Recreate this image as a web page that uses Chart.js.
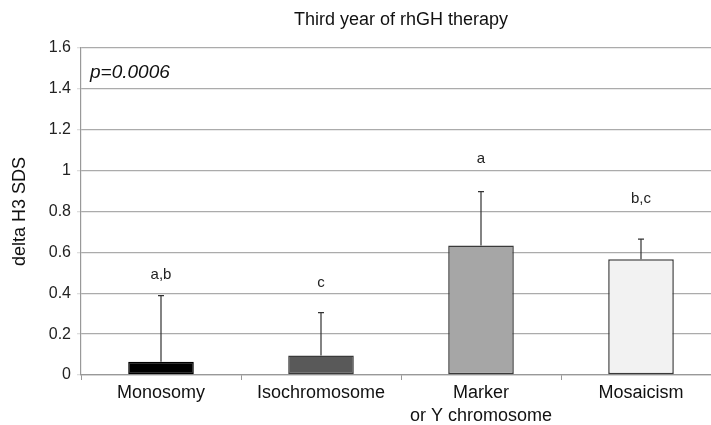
<!DOCTYPE html>
<html lang="en">
<head>
  <meta charset="UTF-8">
  <title>Third year of rhGH therapy</title>
  <script src="https://cdn.jsdelivr.net/npm/chart.js"></script>
  <style>
    html, body { margin: 0; padding: 0; background: #fff; overflow: hidden; }
    #wrap { width: 711px; height: 425px; overflow: hidden; }
  </style>
</head>
<body>
  <div id="wrap">
    <canvas id="chart" width="730" height="425"></canvas>
  </div>

  <script>
    // data
    const groups = ['Monosomy', 'Isochromosome', ['Marker', 'or Y chromosome'], 'Mosaicism'];
    const meanDelta = [0.065, 0.096, 0.634, 0.566];
    const errTop = [0.388, 0.305, 0.897, 0.665];
    const letters = ['a,b', 'c', 'a', 'b,c'];
    const letterAt = [0.49, 0.45, 1.06, 0.86];
    const barColors = ['#000000', '#595959', '#a6a6a6', '#f2f2f2'];
    const pText = 'p=0.0006';
    const titleText = 'Third year of rhGH therapy';

    const FONT = '"Liberation Sans", Arial, sans-serif';

    // error bars, letters, title and p value
    const extras = {
      id: 'extras',
      afterDatasetsDraw(chart) {
        const ctx = chart.ctx;
        const y = chart.scales.y;
        const area = chart.chartArea;
        const bars = chart.getDatasetMeta(0).data;
        ctx.save();
        ctx.strokeStyle = '#333';
        ctx.lineWidth = 1.2;
        bars.forEach((bar, i) => {
          const yTop = y.getPixelForValue(errTop[i]);
          ctx.beginPath();
          ctx.moveTo(bar.x, bar.y);
          ctx.lineTo(bar.x, yTop);
          ctx.moveTo(bar.x - 3, yTop);
          ctx.lineTo(bar.x + 3, yTop);
          ctx.stroke();

          ctx.fillStyle = '#222';
          ctx.font = '15px ' + FONT;
          ctx.textAlign = 'center';
          ctx.textBaseline = 'middle';
          ctx.fillText(letters[i], bar.x, y.getPixelForValue(letterAt[i]));
        });

        ctx.fillStyle = '#111';
        ctx.font = 'italic 19px ' + FONT;
        ctx.textAlign = 'left';
        ctx.textBaseline = 'middle';
        ctx.fillText(pText, area.left + 9, 73);

        ctx.font = '18px ' + FONT;
        ctx.textAlign = 'center';
        ctx.fillText(titleText, (area.left + area.right) / 2, 20);
        ctx.restore();
      }
    };

    new Chart(document.getElementById('chart'), {
      type: 'bar',
      data: {
        labels: groups,
        datasets: [{
          data: meanDelta,
          backgroundColor: barColors,
          borderColor: ['#000', '#3a3a3a', '#3a3a3a', '#3a3a3a'],
          borderWidth: 1.5,
          borderSkipped: false,
          categoryPercentage: 1,
          barPercentage: 0.41
        }]
      },
      options: {
        responsive: false,
        animation: false,
        layout: { padding: { top: 48, right: 9, bottom: 0, left: 0 } },
        plugins: {
          legend: { display: false },
          tooltip: { enabled: false }
        },
        scales: {
          x: {
            offset: true,
            afterFit(scale) { scale.height = 50; },
            grid: {
              offset: true,
              drawOnChartArea: false,
              drawTicks: true,
              tickLength: 5,
              tickColor: '#999'
            },
            border: { color: '#999', width: 1.2 },
            ticks: {
              color: '#111',
              padding: 1,
              font: { family: FONT, size: 18, lineHeight: 1.3 },
              maxRotation: 0
            }
          },
          y: {
            min: 0,
            max: 1.6,
            afterFit(scale) { scale.width = 81; },
            grid: {
              color: '#ababab',
              lineWidth: 1.3,
              tickLength: 4,
              tickColor: '#ddd'
            },
            border: { color: '#999', width: 1.2 },
            ticks: {
              stepSize: 0.2,
              color: '#222',
              padding: 6,
              font: { family: FONT, size: 16 },
              callback: v => String(parseFloat(v.toFixed(1)))
            },
            title: {
              display: true,
              text: 'delta H3 SDS',
              color: '#111',
              font: { family: FONT, size: 18 },
              padding: { top: 9, bottom: 0 }
            }
          }
        }
      },
      plugins: [extras]
    });
  </script>
</body>
</html>
